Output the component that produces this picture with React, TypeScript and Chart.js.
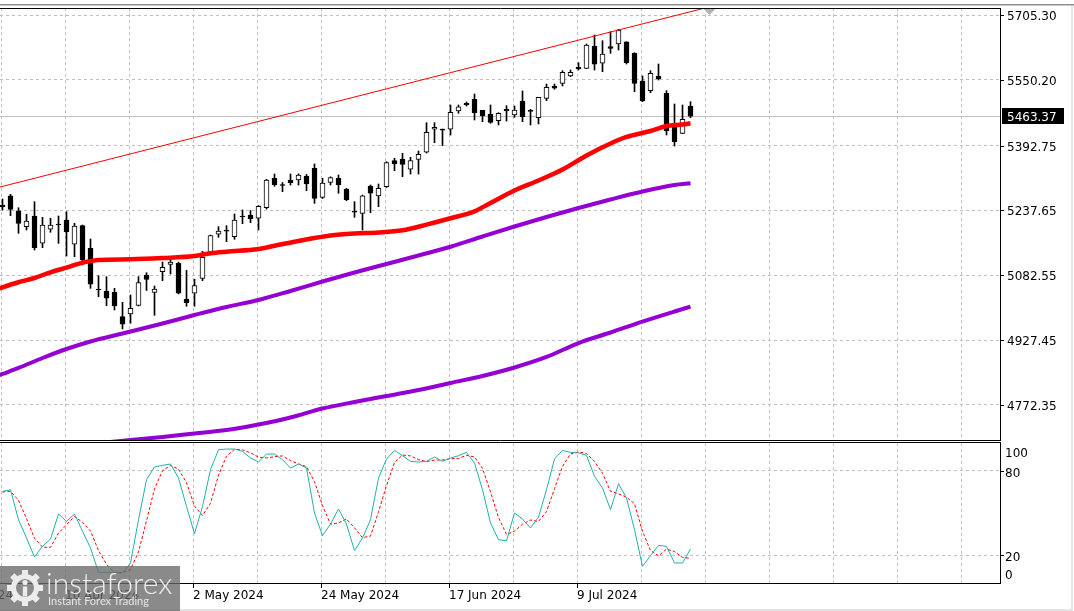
import React, { useEffect, useRef } from "react";
import { Chart, registerables } from "chart.js";

Chart.register(...registerables);

const FONT = '"DejaVu Sans", Verdana, sans-serif';
Chart.defaults.font.family = FONT;

// ---- candles (daily) ----
const OPEN = [
  5250.8, 5273.0, 5237.1, 5198.9, 5224.5, 5159.2, 5192.7, 5205.3, 5214.9, 5156.8,
  5201.3, 5147.2, 5049.8, 5045.0, 5041.9, 4983.6, 4990.0, 5010.4, 5083.3, 5041.5,
  5091.2, 5108.9, 5111.3, 5025.2, 5039.6, 5075.4, 5133.6, 5180.7, 5191.0, 5175.0,
  5224.5, 5226.9, 5219.0, 5244.1, 5314.7, 5299.8, 5310.6, 5310.6, 5320.2, 5338.6,
  5269.2, 5304.6, 5314.7, 5289.1, 5236.0, 5230.9, 5296.2, 5272.3, 5294.6, 5356.8,
  5360.8, 5336.2, 5360.1, 5376.9, 5431.9, 5432.6, 5431.9, 5475.7, 5494.1, 5503.6,
  5477.3, 5467.8, 5452.4, 5479.7, 5466.1, 5499.6, 5477.3, 5459.6, 5506.0, 5535.5,
  5541.9, 5559.4, 5580.2, 5577.8, 5631.1, 5589.8, 5629.5, 5635.9, 5641.4, 5613.7,
  5547.4, 5524.2, 5559.4, 5518.0, 5446.2, 5422.3, 5487.6,
];
const HIGH = [
  5265.1, 5276.4, 5244.3, 5228.5, 5258.7, 5221.3, 5219.0, 5224.5, 5234.8, 5207.0,
  5202.9, 5169.4, 5081.7, 5079.3, 5051.5, 5018.0, 5035.5, 5079.3, 5088.8, 5057.0,
  5114.4, 5124.5, 5114.4, 5094.6, 5073.0, 5140.0, 5179.0, 5198.9, 5201.3, 5229.3,
  5238.8, 5237.6, 5249.6, 5312.3, 5324.9, 5304.6, 5324.9, 5325.4, 5323.7, 5348.9,
  5314.7, 5318.2, 5322.5, 5290.7, 5258.7, 5274.7, 5298.6, 5301.0, 5354.4, 5362.5,
  5374.5, 5364.9, 5380.0, 5447.7, 5447.7, 5432.6, 5490.0, 5490.0, 5497.2, 5516.3,
  5477.3, 5490.0, 5471.6, 5488.3, 5487.6, 5523.5, 5479.7, 5508.4, 5540.2, 5540.2,
  5572.1, 5573.7, 5591.2, 5635.9, 5657.5, 5643.8, 5665.4, 5671.1, 5641.4, 5615.1,
  5559.4, 5572.1, 5588.1, 5524.2, 5492.4, 5490.0, 5497.9,
];
const LOW = [
  5238.8, 5225.2, 5183.1, 5191.0, 5143.1, 5148.6, 5185.5, 5159.2, 5128.8, 5127.1,
  5107.3, 5051.5, 5031.4, 5009.9, 4999.6, 4954.2, 4967.8, 5009.2, 5046.3, 4986.9,
  5069.7, 5085.7, 5037.9, 5008.5, 5008.5, 5069.7, 5131.2, 5173.5, 5163.0, 5168.7,
  5206.0, 5208.4, 5191.0, 5241.2, 5295.5, 5282.6, 5298.6, 5298.6, 5285.0, 5254.9,
  5266.3, 5298.6, 5278.8, 5261.1, 5221.3, 5191.0, 5232.4, 5246.7, 5292.6, 5332.8,
  5318.5, 5324.9, 5324.9, 5375.2, 5399.8, 5392.6, 5418.2, 5470.1, 5487.6, 5454.1,
  5450.1, 5446.2, 5442.2, 5451.7, 5460.6, 5450.1, 5442.2, 5444.6, 5500.3, 5527.6,
  5535.5, 5557.7, 5573.7, 5577.3, 5573.7, 5569.7, 5613.7, 5621.6, 5588.1, 5521.8,
  5497.9, 5519.4, 5549.8, 5418.2, 5391.9, 5421.8, 5459.6,
];
const CLOSE = [
  5246.0, 5240.5, 5207.0, 5212.5, 5148.6, 5202.9, 5202.9, 5202.9, 5186.9, 5200.5,
  5119.2, 5061.1, 5047.4, 5027.6, 5009.2, 4965.4, 5003.7, 5065.4, 5073.0, 5049.4,
  5101.7, 5114.0, 5039.6, 5017.1, 5058.2, 5125.7, 5177.8, 5188.6, 5187.9, 5214.9,
  5222.1, 5217.8, 5247.7, 5310.6, 5299.3, 5297.4, 5304.1, 5322.5, 5301.0, 5266.8,
  5303.4, 5316.6, 5298.6, 5263.5, 5233.6, 5273.0, 5278.8, 5290.7, 5352.0, 5348.9,
  5348.1, 5356.8, 5372.1, 5424.7, 5436.7, 5429.5, 5472.5, 5485.9, 5490.0, 5471.6,
  5464.4, 5448.6, 5470.1, 5475.7, 5478.0, 5462.0, 5474.9, 5508.4, 5532.3, 5530.0,
  5568.2, 5568.2, 5576.1, 5633.5, 5587.4, 5612.0, 5625.6, 5669.4, 5591.2, 5541.9,
  5499.6, 5565.8, 5552.2, 5427.8, 5402.2, 5455.8, 5463.37,
];

// ---- moving averages (bar index, value) ----
const MA_FAST_BARS = [-1, 0, 2, 4, 6, 8, 10, 12, 16, 20, 24, 26, 28, 32, 34, 37, 41, 44, 47, 50, 53, 56, 59, 61, 64, 67, 70, 73, 76, 78, 81, 83, 85, 86];
const MA_FAST = [5047.4, 5053.9, 5065.9, 5076.1, 5089.8, 5101.0, 5113.0, 5119.2, 5120.9, 5124.0, 5128.8, 5135.2, 5139.1, 5145.5, 5153.4, 5164.7, 5177.8, 5182.6, 5185.0, 5190.3, 5203.9, 5219.0, 5235.7, 5255.6, 5285.5, 5309.4, 5335.7, 5369.2, 5397.9, 5413.5, 5427.8, 5439.8, 5443.4, 5446.2];

const MA_MID_BARS = [-1, 0, 2, 5, 8, 11, 15, 20, 24, 28, 32, 36, 40, 44, 48, 52, 56, 60, 64, 68, 72, 76, 80, 84, 86];
const MA_MID = [4839.3, 4846.5, 4860.9, 4884.8, 4906.3, 4924.2, 4943.4, 4967.3, 4987.6, 5006.8, 5023.5, 5045.1, 5067.8, 5089.3, 5109.6, 5130.0, 5151.0, 5175.4, 5199.3, 5222.1, 5243.6, 5263.9, 5283.1, 5298.6, 5302.7];

const MA_SLOW_BARS = [12, 16, 20, 24, 28, 32, 36, 40, 44, 48, 52, 56, 60, 64, 68, 72, 76, 80, 84, 86];
const MA_SLOW = [4681.0, 4688.6, 4695.8, 4704.1, 4712.5, 4725.7, 4742.4, 4764.0, 4779.5, 4793.9, 4808.2, 4825.0, 4841.7, 4862.0, 4887.2, 4920.6, 4945.8, 4972.0, 4996.0, 5007.5];

// ---- trend line ----
const TREND_BARS = [-0.3125, 88];
const TREND = [5293.8, 5722.9];

// ---- stochastic ----
const STOCH_K = [
  65.5, 66.6, 45.2, 32.1, 18.6, 26.2, 31.4, 49.3, 44.0, 49.3,
  36.9, 25.0, 7.6, 7.6, 7.6, 7.1, 14.3, 45.2, 73.8, 82.9,
  84.0, 85.0, 75.0, 54.7, 35.2, 54.7, 81.0, 95.2, 95.7, 95.7,
  94.0, 89.3, 86.4, 92.1, 92.1, 88.1, 82.1, 85.0, 82.1, 50.0,
  33.8, 42.1, 52.9, 42.0, 23.2, 32.1, 45.2, 75.0, 88.6, 94.7,
  90.9, 86.9, 86.4, 86.9, 90.0, 86.9, 89.3, 90.9, 93.3, 85.7,
  66.6, 42.9, 30.9, 30.2, 50.0, 45.7, 39.3, 47.1, 66.6, 88.6,
  94.7, 93.3, 92.9, 91.2, 76.2, 67.9, 52.4, 70.9, 60.7, 38.1,
  11.9, 19.5, 26.9, 26.2, 14.3, 14.3, 24.3,
];
const STOCH_D = [
  65.0, 65.5, 59.1, 46.0, 32.0, 25.6, 25.4, 35.6, 41.6, 47.5,
  43.4, 37.1, 23.2, 13.4, 7.6, 7.4, 9.7, 22.2, 44.4, 67.3,
  80.2, 84.0, 81.3, 71.6, 55.0, 48.2, 57.0, 77.0, 90.6, 95.5,
  95.1, 93.0, 89.9, 89.3, 90.2, 90.8, 87.4, 85.1, 83.1, 72.4,
  55.3, 42.0, 42.9, 45.7, 39.4, 32.4, 33.5, 50.8, 69.6, 86.1,
  91.4, 90.8, 88.1, 86.7, 87.8, 87.9, 88.7, 89.0, 91.2, 90.0,
  81.9, 65.1, 46.8, 34.7, 37.0, 42.0, 45.0, 44.0, 51.0, 67.4,
  83.3, 92.2, 93.6, 92.5, 86.8, 78.4, 65.5, 63.7, 61.3, 56.6,
  36.9, 23.2, 19.4, 24.2, 22.5, 18.3, 17.6,
];
const STOCH_LEVELS = [100, 80, 20, 0];

// ---- axes ----
const PRICE_TICKS = [5705.3, 5550.2, 5392.75, 5237.65, 5082.55, 4927.45, 4772.35];
const LAST_PRICE = 5463.37;
const DATE_LABELS = ["18 Mar 2024", "10 Apr 2024", "2 May 2024", "24 May 2024", "17 Jun 2024", "9 Jul 2024"];
const DATE_BARS = [-8, 8, 24, 40, 56, 72];

const X_MIN = -0.3125;
const X_MAX = 124.6875;
const PRICE_MIN = 4688.6;
const PRICE_MAX = 5722.05;
const GRID_STEP = 8;

const GRID_COLOR = "#c0c0c0";
const DASH = [3, 3];

const gridValues = Array.from({ length: 16 }, (_, k) => k * GRID_STEP - 0.125);

function xScaleConfig() {
  return {
    type: "linear" as const,
    min: X_MIN,
    max: X_MAX,
    offset: false,
    bounds: "data" as const,
    afterBuildTicks: (s: any) => {
      s.ticks = gridValues.map((v) => ({ value: v }));
    },
    afterFit: (s: any) => {
      s.height = 0;
    },
    ticks: { display: false },
    grid: { color: GRID_COLOR, lineWidth: 1, drawTicks: false, offset: false },
    border: { display: false, dash: DASH },
  };
}

const mainDecor = {
  id: "mainDecor",
  beforeDatasetsDraw(chart: any) {
    const { ctx, chartArea: a, scales } = chart;
    const py = Math.round(scales.y.getPixelForValue(LAST_PRICE)) + 0.5;
    ctx.save();
    ctx.strokeStyle = "#c0c0c0";
    ctx.lineWidth = 1;
    ctx.beginPath();
    ctx.moveTo(a.left, py);
    ctx.lineTo(a.right, py);
    ctx.stroke();
    ctx.restore();
  },
  afterDraw(chart: any) {
    const { ctx, chartArea: a, scales } = chart;
    const y = scales.y;
    const x = scales.x;
    ctx.save();
    // frame
    ctx.strokeStyle = "#000";
    ctx.lineWidth = 1;
    ctx.beginPath();
    ctx.moveTo(0, a.top + 0.5);
    ctx.lineTo(a.right + 1, a.top + 0.5);
    ctx.moveTo(a.right + 0.5, a.top);
    ctx.lineTo(a.right + 0.5, a.bottom + 1);
    ctx.moveTo(0, a.bottom + 0.5);
    ctx.lineTo(a.right + 1, a.bottom + 0.5);
    ctx.stroke();
    // price ticks + labels
    ctx.font = `12px ${FONT}`;
    ctx.fillStyle = "#000";
    ctx.textAlign = "left";
    ctx.textBaseline = "alphabetic";
    PRICE_TICKS.forEach((v) => {
      const py = Math.round(y.getPixelForValue(v)) + 0.5;
      ctx.beginPath();
      ctx.moveTo(a.right + 1, py);
      ctx.lineTo(a.right + 4, py);
      ctx.stroke();
      ctx.fillText(v.toFixed(2), a.right + 7, py + 4);
    });
    // last price box
    const lp = Math.round(y.getPixelForValue(LAST_PRICE));
    ctx.fillStyle = "#000";
    ctx.fillRect(a.right + 2, lp - 8, 62, 16);
    ctx.fillStyle = "#fff";
    ctx.fillText(LAST_PRICE.toFixed(2), a.right + 7, lp + 4.5);
    // chart shift marker
    const tx = Math.round(x.getPixelForValue(OPEN.length + 1.3)) + 0.5;
    ctx.fillStyle = "#b4b4b4";
    ctx.beginPath();
    ctx.moveTo(tx - 6, a.top + 1);
    ctx.lineTo(tx + 6, a.top + 1);
    ctx.lineTo(tx, a.top + 7);
    ctx.closePath();
    ctx.fill();
    ctx.restore();
  },
};

const stochDecor = {
  id: "stochDecor",
  afterDraw(chart: any) {
    const { ctx, chartArea: a, scales } = chart;
    const y = scales.y;
    const x = scales.x;
    ctx.save();
    ctx.strokeStyle = "#000";
    ctx.lineWidth = 1;
    ctx.beginPath();
    ctx.moveTo(0, a.top - 0.5);
    ctx.lineTo(a.right + 1, a.top - 0.5);
    ctx.moveTo(a.right + 0.5, a.top - 1);
    ctx.lineTo(a.right + 0.5, a.bottom + 1);
    ctx.moveTo(0, a.bottom + 0.5);
    ctx.lineTo(a.right + 1, a.bottom + 0.5);
    ctx.stroke();
    ctx.font = `12px ${FONT}`;
    ctx.fillStyle = "#000";
    ctx.textAlign = "left";
    ctx.textBaseline = "alphabetic";
    STOCH_LEVELS.forEach((v) => {
      const gy = y.getPixelForValue(v);
      const shift = v === 100 ? 9 : v === 0 ? -9 : 1;
      if (v !== 100 && v !== 0) {
        const py = Math.round(gy) + 0.5;
        ctx.beginPath();
        ctx.moveTo(a.right + 1, py);
        ctx.lineTo(a.right + 4, py);
        ctx.stroke();
      }
      ctx.fillText(String(v), a.right + 5, gy + shift + 4.5);
    });
    DATE_BARS.forEach((b, i) => {
      const gx = Math.round(x.getPixelForValue(b - 0.125) - 0.5) + 0.5;
      ctx.beginPath();
      ctx.moveTo(gx, a.bottom + 1);
      ctx.lineTo(gx, a.bottom + 5);
      ctx.stroke();
      ctx.fillText(DATE_LABELS[i], gx - 0.5, a.bottom + 16);
    });
    ctx.restore();
  },
};

export default function App() {
  const mainRef = useRef<HTMLCanvasElement | null>(null);
  const stochRef = useRef<HTMLCanvasElement | null>(null);

  useEffect(() => {
    const bars = OPEN.map((_, i) => i);
    const mainChart = new Chart(mainRef.current as HTMLCanvasElement, {
      type: "bar",
      data: {
        datasets: [
          {
            type: "line",
            label: "Trend",
            data: TREND_BARS.map((b, i) => ({ x: b, y: TREND[i] })),
            borderColor: "#ff0000",
            borderWidth: 1,
            pointRadius: 0,
            clip: 0,
            order: 1,
          } as any,
          {
            type: "line",
            label: "MA fast",
            data: MA_FAST_BARS.map((b, i) => ({ x: b, y: MA_FAST[i] })),
            borderColor: "#ff0000",
            borderWidth: 4.5,
            pointRadius: 0,
            cubicInterpolationMode: "monotone",
            clip: 0,
            order: 2,
          } as any,
          {
            type: "line",
            label: "MA mid",
            data: MA_MID_BARS.map((b, i) => ({ x: b, y: MA_MID[i] })),
            borderColor: "#9400d3",
            borderWidth: 4,
            pointRadius: 0,
            cubicInterpolationMode: "monotone",
            clip: 0,
            order: 3,
          } as any,
          {
            type: "line",
            label: "MA slow",
            data: MA_SLOW_BARS.map((b, i) => ({ x: b, y: MA_SLOW[i] })),
            borderColor: "#9400d3",
            borderWidth: 4,
            pointRadius: 0,
            cubicInterpolationMode: "monotone",
            clip: 0,
            order: 4,
          } as any,
          {
            type: "bar",
            label: "Bodies",
            data: bars.map((i) => ({ x: i, y: [OPEN[i], CLOSE[i]] })),
            backgroundColor: bars.map((i) => (CLOSE[i] >= OPEN[i] ? "#ffffff" : "#000000")),
            borderColor: "#000000",
            borderWidth: 1,
            borderSkipped: false,
            barThickness: 5,
            grouped: false,
            order: 10,
          } as any,
          {
            type: "bar",
            label: "Wicks",
            data: bars.map((i) => ({ x: i, y: [LOW[i], HIGH[i]] })),
            backgroundColor: "#000000",
            borderWidth: 0,
            barThickness: 1,
            grouped: false,
            order: 11,
          } as any,
        ],
      },
      options: {
        animation: false,
        responsive: false,
        events: [],
        layout: { padding: { top: 8, bottom: 2, left: 0, right: 0 } },
        plugins: { legend: { display: false }, tooltip: { enabled: false } },
        scales: {
          x: xScaleConfig() as any,
          y: {
            type: "linear",
            position: "right",
            min: PRICE_MIN,
            max: PRICE_MAX,
            bounds: "data",
            afterBuildTicks: (s: any) => {
              s.ticks = PRICE_TICKS.map((v) => ({ value: v }));
            },
            afterFit: (s: any) => {
              s.width = 74;
            },
            ticks: { display: false },
            grid: { color: GRID_COLOR, drawTicks: false },
            border: { display: false, dash: DASH },
          } as any,
        },
      },
      plugins: [mainDecor],
    });

    const stochChart = new Chart(stochRef.current as HTMLCanvasElement, {
      type: "line",
      data: {
        datasets: [
          {
            label: "%K",
            data: bars.map((i) => ({ x: i, y: STOCH_K[i] })),
            borderColor: "#20b2aa",
            borderWidth: 1,
            pointRadius: 0,
            order: 1,
          },
          {
            label: "%D",
            data: bars.map((i) => ({ x: i, y: STOCH_D[i] })),
            borderColor: "#ff0000",
            borderWidth: 1,
            borderDash: [3, 2],
            pointRadius: 0,
            order: 2,
          },
        ],
      },
      options: {
        animation: false,
        responsive: false,
        events: [],
        layout: { padding: { top: 1, bottom: 28, left: 0, right: 0 } },
        plugins: { legend: { display: false }, tooltip: { enabled: false } },
        scales: {
          x: xScaleConfig() as any,
          y: {
            type: "linear",
            position: "right",
            min: 0,
            max: 100,
            afterBuildTicks: (s: any) => {
              s.ticks = STOCH_LEVELS.map((v) => ({ value: v }));
            },
            afterFit: (s: any) => {
              s.width = 74;
            },
            ticks: { display: false },
            grid: {
              drawTicks: false,
              color: (c: any) =>
                c.tick && (c.tick.value === 20 || c.tick.value === 80) ? GRID_COLOR : "rgba(0,0,0,0)",
            },
            border: { display: false, dash: DASH },
          } as any,
        },
      },
      plugins: [stochDecor],
    });

    return () => {
      mainChart.destroy();
      stochChart.destroy();
    };
  }, []);

  return (
    <div
      style={{
        position: "absolute",
        left: 0,
        top: 0,
        width: 1074,
        height: 611,
        background: "#ffffff",
        overflow: "hidden",
      }}
    >
      <canvas
        ref={mainRef}
        width={1074}
        height={442}
        style={{ position: "absolute", left: 0, top: 0, width: 1074, height: 442 }}
      />
      <canvas
        ref={stochRef}
        width={1074}
        height={169}
        style={{ position: "absolute", left: 0, top: 442, width: 1074, height: 169 }}
      />
      <div style={{ position: "absolute", left: 0, top: 4, width: 1074, height: 1, background: "#8c8c8c" }} />
      <div style={{ position: "absolute", left: 0, top: 5, width: 1074, height: 1, background: "#c8c8c8" }} />
      <div style={{ position: "absolute", left: 1071, top: 6, width: 2, height: 605, background: "#e4e4e4" }} />
      <div style={{ position: "absolute", left: 0, top: 609, width: 1073, height: 2, background: "#e4e4e4" }} />
      <div
        style={{
          position: "absolute",
          left: 0,
          top: 566,
          width: 180,
          height: 45,
          background: "rgba(105,105,105,0.78)",
          overflow: "hidden",
        }}
      >
        <svg width={38} height={40} viewBox="0 0 38 40" style={{ position: "absolute", left: 6, top: 2 }}>
          <g fill="#ececec">
            {Array.from({ length: 8 }, (_, k) => (
              <rect key={k} x={16} y={2} width={6} height={8} transform={`rotate(${k * 45} 19 20)`} />
            ))}
            <circle cx={19} cy={20} r={11.5} fill="none" stroke="#ececec" strokeWidth={5} />
            <circle cx={19} cy={14.5} r={2.6} />
            <rect x={16.8} y={18.5} width={4.4} height={10} />
          </g>
        </svg>
        <div
          style={{
            position: "absolute",
            left: 46,
            top: 1,
            fontFamily: "Lato, 'Open Sans', sans-serif",
            fontWeight: 300,
            fontSize: 30,
            lineHeight: "30px",
            color: "#eeeeee",
            letterSpacing: 0,
            whiteSpace: "nowrap",
          }}
        >
          instaforex
        </div>
        <div
          style={{
            position: "absolute",
            left: 48,
            top: 29,
            fontFamily: "Lato, 'Open Sans', sans-serif",
            fontSize: 11,
            lineHeight: "11px",
            color: "#e6e6e6",
            whiteSpace: "nowrap",
          }}
        >
          Instant Forex Trading
        </div>
      </div>
    </div>
  );
}
